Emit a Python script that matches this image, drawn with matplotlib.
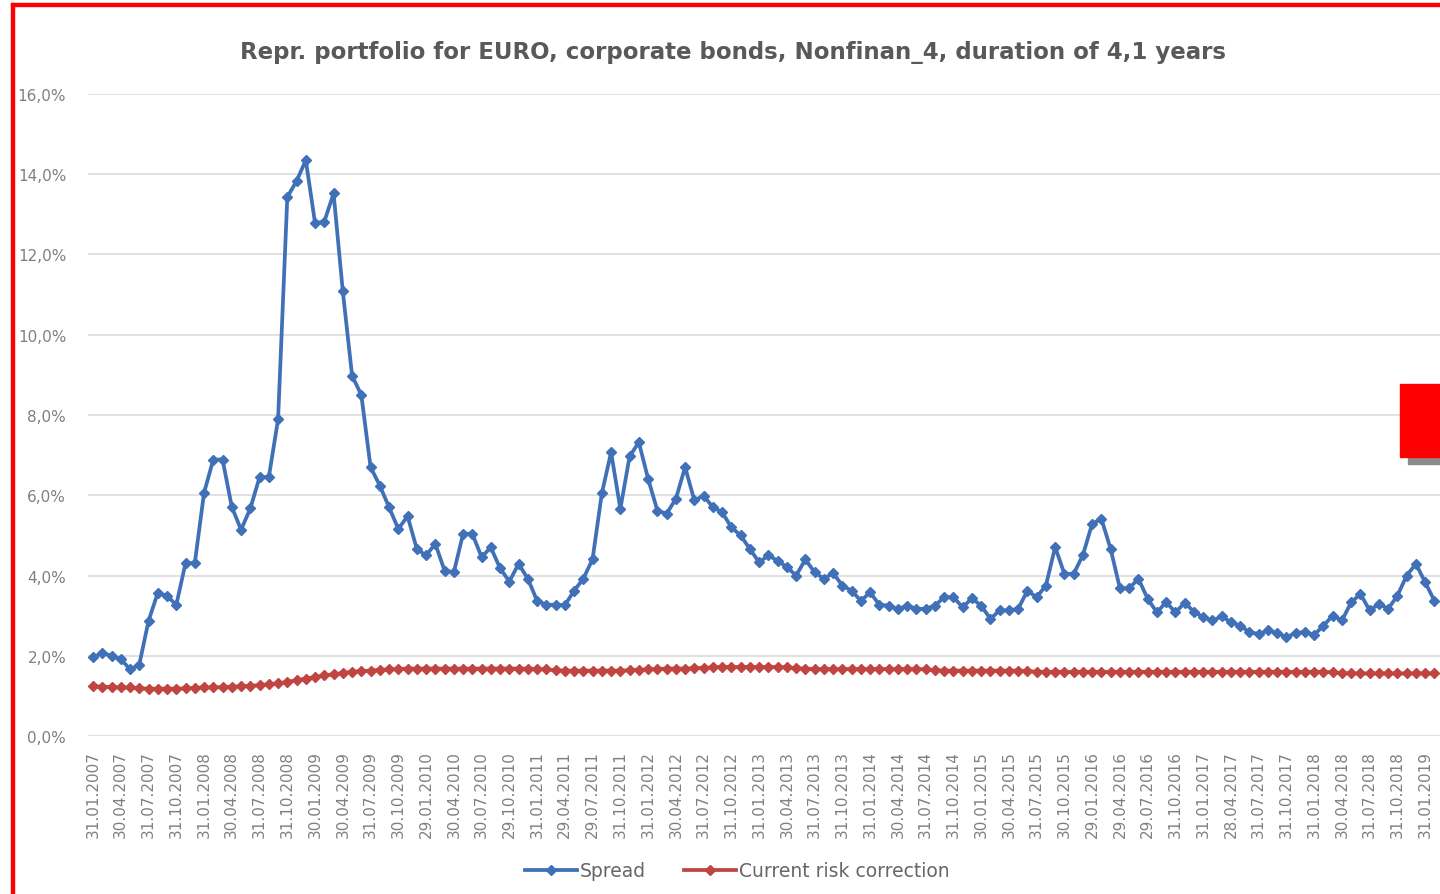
import matplotlib
matplotlib.use('Agg')
import matplotlib.pyplot as plt
from matplotlib.patches import Rectangle
from matplotlib.ticker import FuncFormatter

# monthly observations, Jan 2007 .. Feb 2019 (values in %)
spread = [
    1.96, 2.07, 2.00, 1.92, 1.66, 1.78, 2.87, 3.57, 3.49, 3.27,
    4.31, 4.31, 6.06, 6.89, 6.89, 5.71, 5.14, 5.67, 6.45, 6.45,
    7.89, 13.43, 13.83, 14.35, 12.78, 12.82, 13.52, 11.08, 8.98, 8.50,
    6.70, 6.24, 5.70, 5.16, 5.48, 4.66, 4.50, 4.79, 4.12, 4.08,
    5.04, 5.04, 4.46, 4.70, 4.18, 3.85, 4.29, 3.92, 3.37, 3.27,
    3.27, 3.26, 3.62, 3.92, 4.41, 6.05, 7.07, 5.66, 6.97, 7.32,
    6.41, 5.62, 5.54, 5.91, 6.70, 5.87, 5.99, 5.70, 5.58, 5.20,
    5.00, 4.66, 4.33, 4.50, 4.37, 4.21, 4.00, 4.40, 4.08, 3.92,
    4.06, 3.75, 3.62, 3.37, 3.58, 3.27, 3.25, 3.16, 3.25, 3.17,
    3.17, 3.25, 3.46, 3.46, 3.21, 3.43, 3.25, 2.92, 3.13, 3.13,
    3.17, 3.62, 3.46, 3.75, 4.71, 4.04, 4.04, 4.51, 5.29, 5.41,
    4.66, 3.68, 3.68, 3.92, 3.42, 3.08, 3.34, 3.08, 3.32, 3.10,
    2.96, 2.88, 2.98, 2.84, 2.75, 2.59, 2.54, 2.63, 2.57, 2.46,
    2.57, 2.59, 2.52, 2.75, 3.00, 2.88, 3.33, 3.54, 3.13, 3.29,
    3.17, 3.50, 4.00, 4.29, 3.83, 3.37,
]

risk_correction = [
    1.24, 1.23, 1.22, 1.21, 1.21, 1.19, 1.18, 1.18, 1.18, 1.18,
    1.19, 1.20, 1.21, 1.21, 1.22, 1.23, 1.24, 1.25, 1.27, 1.29,
    1.31, 1.35, 1.39, 1.43, 1.47, 1.51, 1.54, 1.57, 1.60, 1.62,
    1.63, 1.65, 1.66, 1.67, 1.68, 1.68, 1.68, 1.68, 1.68, 1.68,
    1.68, 1.68, 1.68, 1.68, 1.68, 1.68, 1.68, 1.68, 1.67, 1.66,
    1.64, 1.63, 1.63, 1.63, 1.63, 1.63, 1.63, 1.63, 1.64, 1.65,
    1.66, 1.67, 1.68, 1.68, 1.68, 1.69, 1.70, 1.71, 1.72, 1.72,
    1.72, 1.72, 1.72, 1.72, 1.72, 1.71, 1.69, 1.68, 1.67, 1.67,
    1.67, 1.67, 1.67, 1.67, 1.67, 1.67, 1.67, 1.67, 1.67, 1.67,
    1.66, 1.64, 1.63, 1.63, 1.63, 1.63, 1.63, 1.63, 1.63, 1.63,
    1.63, 1.62, 1.60, 1.60, 1.60, 1.60, 1.60, 1.60, 1.60, 1.60,
    1.60, 1.60, 1.60, 1.60, 1.60, 1.60, 1.60, 1.60, 1.60, 1.60,
    1.60, 1.60, 1.60, 1.60, 1.60, 1.60, 1.60, 1.60, 1.60, 1.60,
    1.60, 1.60, 1.60, 1.60, 1.59, 1.57, 1.56, 1.56, 1.56, 1.56,
    1.56, 1.56, 1.56, 1.56, 1.56, 1.56,
]

# quarterly axis labels (every third month)
tick_labels = [
    '31.01.2007', '30.04.2007', '31.07.2007', '31.10.2007',
    '31.01.2008', '30.04.2008', '31.07.2008', '31.10.2008',
    '30.01.2009', '30.04.2009', '31.07.2009', '30.10.2009',
    '29.01.2010', '30.04.2010', '30.07.2010', '29.10.2010',
    '31.01.2011', '29.04.2011', '29.07.2011', '31.10.2011',
    '31.01.2012', '30.04.2012', '31.07.2012', '31.10.2012',
    '31.01.2013', '30.04.2013', '31.07.2013', '31.10.2013',
    '31.01.2014', '30.04.2014', '31.07.2014', '31.10.2014',
    '30.01.2015', '30.04.2015', '31.07.2015', '30.10.2015',
    '29.01.2016', '29.04.2016', '29.07.2016', '31.10.2016',
    '31.01.2017', '28.04.2017', '31.07.2017', '31.10.2017',
    '31.01.2018', '30.04.2018', '31.07.2018', '31.10.2018',
    '31.01.2019',
]

title = 'Repr. portfolio for EURO, corporate bonds, Nonfinan_4, duration of 4,1 years'

blue = '#3f70b8'
red = '#c0443f'
grey_text = '#808080'

fig = plt.figure(figsize=(14.4, 8.95), dpi=100)
ax = fig.add_axes([0.0614, 0.1765, 0.9386, 0.7174])

x = list(range(len(spread)))
ax.plot(x, spread, color=blue, linewidth=2.7, marker='D', markersize=5.5,
        label='Spread')
ax.plot(x, risk_correction, color=red, linewidth=2.7, marker='D', markersize=5.5,
        label='Current risk correction')

ax.set_xlim(-0.5, 145.6)
ax.set_ylim(0, 16)
ax.set_yticks(range(0, 17, 2))
ax.yaxis.set_major_formatter(FuncFormatter(lambda v, p: ('%.1f%%' % v).replace('.', ',')))
ax.set_xticks(range(0, 3 * len(tick_labels), 3))
ax.set_xticklabels(tick_labels, rotation=90)

ax.grid(axis='y', color='#dcdcdc', linewidth=1.2)
ax.set_axisbelow(True)
for s in ax.spines.values():
    s.set_visible(False)
ax.tick_params(axis='both', length=0, labelsize=11, labelcolor=grey_text)
ax.tick_params(axis='y', pad=16)
ax.tick_params(axis='x', pad=10)

fig.text(0.509, 0.941, title, ha='center', va='center', fontsize=16.5,
         fontweight='bold', color='#595959')

leg = fig.legend(loc='center', bbox_to_anchor=(0.512, 0.026), ncol=2, frameon=False,
                 fontsize=13.5, handlelength=2.8, numpoints=1, columnspacing=2.0,
                 handletextpad=0.15)
for t in leg.get_texts():
    t.set_color('#666666')

# red frame and box drawn over the figure
fig.patches.append(Rectangle((11 / 1440, 0), 3 / 1440, 891 / 895, transform=fig.transFigure,
                             color='#ff0000', zorder=10))
fig.patches.append(Rectangle((11 / 1440, 888 / 895), 1429 / 1440, 3 / 895,
                             transform=fig.transFigure, color='#ff0000', zorder=10))
fig.patches.append(Rectangle((1408 / 1440, 1 - 465 / 895), 32 / 1440, 8 / 895,
                             transform=fig.transFigure, color='#8c8c8c', zorder=10))
fig.patches.append(Rectangle((1400 / 1440, 1 - 458 / 895), 40 / 1440, 73 / 895,
                             transform=fig.transFigure, color='#ff0000', zorder=11))

fig.savefig('out.png', dpi=100)
